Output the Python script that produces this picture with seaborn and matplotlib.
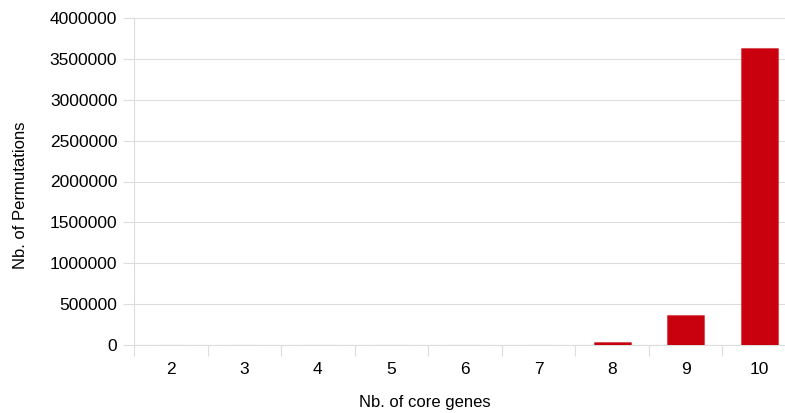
import numpy as np
import pandas as pd
import matplotlib
matplotlib.use("Agg")
import matplotlib.pyplot as plt
import seaborn as sns

core_genes = ["2", "3", "4", "5", "6", "7", "8", "9", "10"]
permutations = [2, 6, 24, 120, 720, 5040, 40320, 362880, 3628800]
y_ticks = [0, 500000, 1000000, 1500000, 2000000, 2500000, 3000000, 3500000, 4000000]

BAR_COLOR = "#c9000d"
GRID_COLOR = "#dddddd"

sns.set_theme(style="white")
plt.rcParams["font.family"] = ["Liberation Sans", "DejaVu Sans"]

df = pd.DataFrame({"genes": core_genes, "perms": permutations})

fig = plt.figure(figsize=(7.85, 4.13), dpi=100)
ax = fig.add_axes([134 / 785, 1 - 345 / 413, (796 - 134) / 785, (345 - 18) / 413])

# faint edge so the tiny bars still show as thin pink lines
sns.barplot(data=df, x="genes", y="perms", color=BAR_COLOR, width=0.5,
            saturation=1, ax=ax, zorder=3,
            edgecolor=(0.79, 0.0, 0.05, 0.35), linewidth=0.8)

ax.set_ylim(0, 4000000)
ax.set_xlim(-0.5, len(core_genes) - 0.5)
ax.set_yticks(y_ticks)
ax.set_yticklabels([str(t) for t in y_ticks])
ax.yaxis.grid(True, color=GRID_COLOR, linewidth=0.8, zorder=0)
ax.set_axisbelow(True)

# category boundaries as tick marks
ax.set_xticks(np.arange(-0.5, len(core_genes), 1.0), minor=True)
ax.tick_params(axis="x", which="major", length=0, pad=12, labelsize=12.5, labelcolor="#000000")
ax.tick_params(axis="x", which="minor", length=8, width=0.8, color=GRID_COLOR, direction="out")
ax.tick_params(axis="y", which="major", length=8, width=0.8, color=GRID_COLOR,
               direction="out", pad=4, labelsize=12.5, labelcolor="#000000")
ax.xaxis.set_ticks_position("bottom")
ax.yaxis.set_ticks_position("left")

for side in ["top", "right"]:
    ax.spines[side].set_visible(False)
for side in ["left", "bottom"]:
    ax.spines[side].set_color(GRID_COLOR)
    ax.spines[side].set_linewidth(0.8)

ax.set_xlabel("Nb. of core genes", fontsize=12, color="#000000")
ax.set_ylabel("Nb. of Permutations", fontsize=12, color="#000000")
ax.xaxis.set_label_coords((425 - 134) / 662, (345 - 395) / 327)
ax.yaxis.set_label_coords((28 - 134) / 662, (345 - 195) / 327)

fig.savefig("out.png", dpi=100)
